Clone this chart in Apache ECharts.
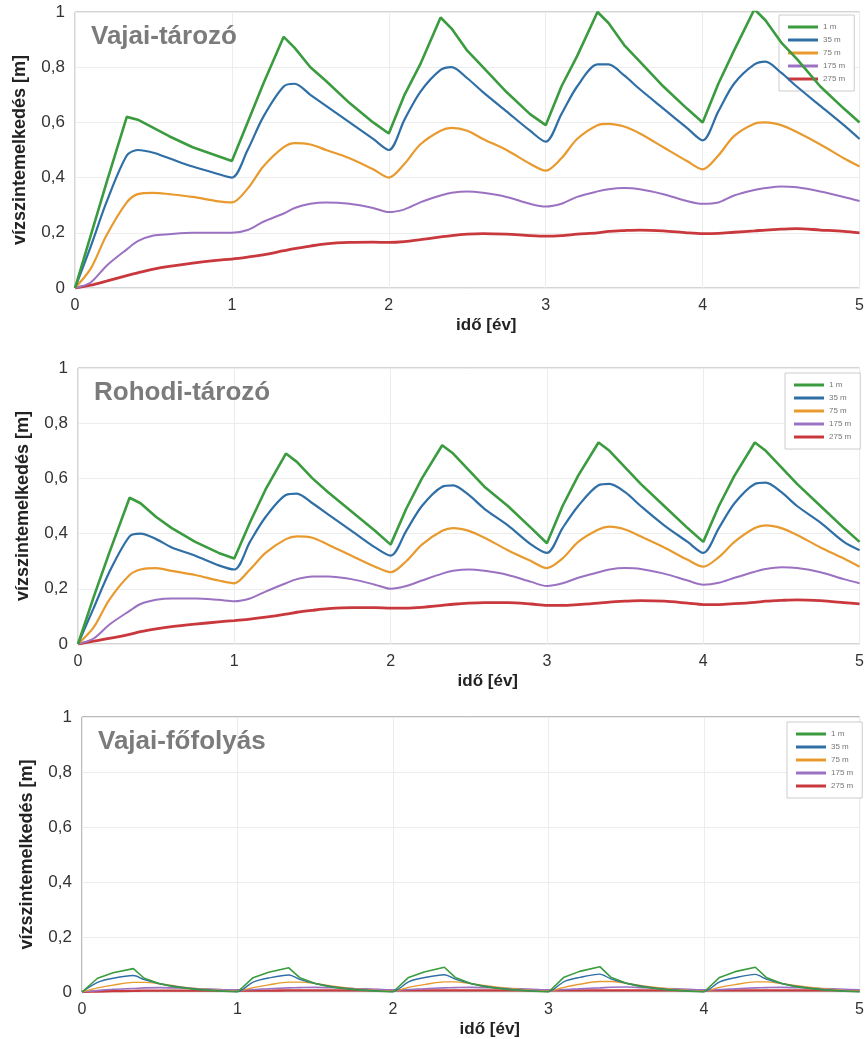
<!DOCTYPE html>
<html>
<head>
<meta charset="utf-8">
<script src="https://cdn.jsdelivr.net/npm/echarts@6/dist/echarts.min.js"></script>
<style>
  html, body { margin: 0; padding: 0; background: #fff; }
  #main { width: 867px; height: 1039px; }
</style>
</head>
<body>
<div id="main"></div>
<script>
// idő [év]
var t = [
  0, 0.1, 0.2, 0.33, 0.4, 0.5, 0.6, 0.75, 0.9,
  1, 1.1, 1.2, 1.33, 1.4, 1.5, 1.6, 1.75, 1.9,
  2, 2.1, 2.2, 2.33, 2.4, 2.5, 2.6, 2.75, 2.9,
  3, 3.1, 3.2, 3.33, 3.4, 3.5, 3.6, 3.75, 3.9,
  4, 4.1, 4.2, 4.33, 4.4, 4.5, 4.6, 4.75, 4.9,
  5
];
var names = ['1 m', '35 m', '75 m', '175 m', '275 m'];
var colors = ['#3b9b3f', '#2f6fa6', '#e89a2e', '#9b72c2', '#c9383d'];
var titles = ['Vajai-tározó', 'Rohodi-tározó', 'Vajai-főfolyás'];

// Vajai-tározó
var vt1 = [0, 0.19, 0.38, 0.62, 0.61, 0.58, 0.55, 0.51, 0.48,
  0.46, 0.60, 0.74, 0.91, 0.87, 0.80, 0.75, 0.67, 0.60,
  0.56, 0.70, 0.81, 0.98, 0.94, 0.86, 0.80, 0.71, 0.63,
  0.59, 0.73, 0.84, 1.00, 0.96, 0.88, 0.82, 0.73, 0.65,
  0.60, 0.74, 0.86, 1.01, 0.97, 0.89, 0.83, 0.73, 0.65,
  0.60];
var vt2 = [0, 0.15, 0.31, 0.48, 0.50, 0.49, 0.47, 0.44, 0.415,
  0.40, 0.50, 0.62, 0.73, 0.74, 0.70, 0.66, 0.60, 0.54,
  0.50, 0.61, 0.71, 0.79, 0.80, 0.76, 0.71, 0.64, 0.57,
  0.53, 0.63, 0.73, 0.81, 0.81, 0.77, 0.72, 0.65, 0.58,
  0.535, 0.64, 0.74, 0.81, 0.82, 0.78, 0.73, 0.66, 0.59,
  0.54];
var vt3 = [0, 0.07, 0.19, 0.31, 0.34, 0.345, 0.34, 0.33, 0.315,
  0.31, 0.36, 0.44, 0.51, 0.525, 0.52, 0.50, 0.47, 0.43,
  0.40, 0.45, 0.52, 0.57, 0.58, 0.57, 0.54, 0.50, 0.45,
  0.425, 0.47, 0.54, 0.59, 0.595, 0.585, 0.56, 0.51, 0.46,
  0.43, 0.48, 0.55, 0.595, 0.60, 0.59, 0.565, 0.52, 0.47,
  0.44];
var vt4 = [0, 0.02, 0.08, 0.14, 0.17, 0.19, 0.195, 0.20, 0.20,
  0.20, 0.21, 0.24, 0.27, 0.29, 0.305, 0.31, 0.305, 0.29,
  0.275, 0.285, 0.31, 0.335, 0.345, 0.35, 0.345, 0.33, 0.305,
  0.295, 0.305, 0.33, 0.35, 0.358, 0.362, 0.358, 0.34, 0.315,
  0.305, 0.31, 0.335, 0.355, 0.362, 0.368, 0.365, 0.35, 0.33,
  0.315];
var vt5 = [0, 0.01, 0.025, 0.045, 0.055, 0.068, 0.078, 0.09, 0.10,
  0.105, 0.112, 0.12, 0.135, 0.143, 0.152, 0.16, 0.165, 0.166,
  0.165, 0.168, 0.175, 0.185, 0.19, 0.195, 0.197, 0.195, 0.19,
  0.188, 0.19, 0.195, 0.20, 0.205, 0.208, 0.21, 0.207, 0.20,
  0.197, 0.198, 0.202, 0.207, 0.21, 0.213, 0.215, 0.21, 0.205,
  0.20];

// Rohodi-tározó
var rt1 = [0, 0.17, 0.33, 0.53, 0.51, 0.46, 0.42, 0.37, 0.33,
  0.31, 0.44, 0.56, 0.69, 0.66, 0.60, 0.55, 0.48, 0.41,
  0.36, 0.49, 0.60, 0.72, 0.69, 0.63, 0.57, 0.50, 0.42,
  0.365, 0.50, 0.61, 0.73, 0.70, 0.64, 0.58, 0.50, 0.42,
  0.37, 0.50, 0.61, 0.73, 0.70, 0.64, 0.58, 0.50, 0.42,
  0.37];
var rt2 = [0, 0.13, 0.26, 0.39, 0.40, 0.38, 0.35, 0.32, 0.285,
  0.27, 0.37, 0.46, 0.54, 0.545, 0.51, 0.47, 0.41, 0.35,
  0.32, 0.41, 0.50, 0.57, 0.575, 0.54, 0.49, 0.43, 0.36,
  0.33, 0.42, 0.50, 0.575, 0.58, 0.55, 0.50, 0.43, 0.37,
  0.33, 0.42, 0.51, 0.58, 0.585, 0.55, 0.50, 0.44, 0.37,
  0.34];
var rt3 = [0, 0.06, 0.16, 0.25, 0.27, 0.275, 0.265, 0.25, 0.23,
  0.22, 0.27, 0.33, 0.38, 0.39, 0.385, 0.36, 0.32, 0.28,
  0.26, 0.30, 0.36, 0.41, 0.42, 0.41, 0.385, 0.34, 0.30,
  0.275, 0.31, 0.37, 0.415, 0.425, 0.415, 0.39, 0.35, 0.305,
  0.28, 0.315, 0.37, 0.42, 0.43, 0.42, 0.395, 0.35, 0.31,
  0.28];
var rt4 = [0, 0.02, 0.07, 0.12, 0.145, 0.16, 0.165, 0.165, 0.16,
  0.155, 0.165, 0.19, 0.22, 0.235, 0.245, 0.245, 0.235, 0.215,
  0.20, 0.21, 0.23, 0.255, 0.265, 0.27, 0.265, 0.25, 0.225,
  0.21, 0.22, 0.24, 0.26, 0.27, 0.275, 0.272, 0.255, 0.23,
  0.215, 0.222, 0.24, 0.262, 0.272, 0.278, 0.275, 0.26, 0.235,
  0.22];
var rt5 = [0, 0.01, 0.02, 0.035, 0.045, 0.055, 0.063, 0.072, 0.08,
  0.085, 0.09, 0.097, 0.108, 0.115, 0.122, 0.128, 0.132, 0.132,
  0.13, 0.13, 0.133, 0.14, 0.144, 0.148, 0.15, 0.15, 0.145,
  0.14, 0.14, 0.143, 0.148, 0.152, 0.155, 0.157, 0.155, 0.148,
  0.143, 0.143, 0.146, 0.151, 0.155, 0.158, 0.16, 0.157, 0.15,
  0.145];

// Vajai-főfolyás
var ff1 = [0, 0.05, 0.07, 0.085, 0.05, 0.03, 0.018, 0.008, 0.003,
  0, 0.052, 0.072, 0.088, 0.052, 0.031, 0.018, 0.008, 0.003,
  0, 0.053, 0.073, 0.09, 0.053, 0.031, 0.018, 0.008, 0.003,
  0, 0.054, 0.075, 0.092, 0.054, 0.032, 0.019, 0.008, 0.003,
  0, 0.053, 0.074, 0.09, 0.053, 0.031, 0.018, 0.008, 0.003,
  0];
var ff2 = [0, 0.035, 0.05, 0.06, 0.045, 0.03, 0.02, 0.01, 0.004,
  0.002, 0.036, 0.051, 0.062, 0.046, 0.031, 0.02, 0.01, 0.004,
  0.002, 0.037, 0.052, 0.063, 0.047, 0.031, 0.02, 0.01, 0.004,
  0.002, 0.038, 0.053, 0.065, 0.048, 0.032, 0.021, 0.01, 0.004,
  0.002, 0.037, 0.052, 0.064, 0.047, 0.031, 0.02, 0.01, 0.004,
  0.002];
var ff3 = [0, 0.015, 0.025, 0.035, 0.035, 0.03, 0.022, 0.012, 0.006,
  0.004, 0.016, 0.026, 0.036, 0.036, 0.031, 0.022, 0.012, 0.006,
  0.004, 0.017, 0.027, 0.037, 0.037, 0.031, 0.023, 0.013, 0.006,
  0.004, 0.017, 0.028, 0.038, 0.038, 0.032, 0.023, 0.013, 0.006,
  0.004, 0.017, 0.027, 0.037, 0.037, 0.031, 0.023, 0.013, 0.006,
  0.004];
var ff4 = [0, 0.005, 0.01, 0.013, 0.015, 0.016, 0.015, 0.012, 0.009,
  0.008, 0.009, 0.012, 0.015, 0.016, 0.017, 0.016, 0.013, 0.01,
  0.008, 0.009, 0.012, 0.015, 0.016, 0.017, 0.016, 0.013, 0.01,
  0.008, 0.009, 0.012, 0.015, 0.017, 0.018, 0.016, 0.013, 0.01,
  0.008, 0.009, 0.012, 0.015, 0.016, 0.017, 0.016, 0.013, 0.01,
  0.008];
var ff5 = [0, 0.002, 0.003, 0.004, 0.005, 0.005, 0.005, 0.005, 0.005,
  0.005, 0.005, 0.005, 0.006, 0.006, 0.006, 0.006, 0.006, 0.006,
  0.006, 0.006, 0.006, 0.006, 0.006, 0.006, 0.006, 0.006, 0.006,
  0.006, 0.006, 0.006, 0.006, 0.006, 0.006, 0.006, 0.006, 0.006,
  0.006, 0.006, 0.006, 0.006, 0.006, 0.006, 0.006, 0.006, 0.006,
  0.006];

var panels = [[vt1, vt2, vt3, vt4, vt5], [rt1, rt2, rt3, rt4, rt5], [ff1, ff2, ff3, ff4, ff5]];

(function () {
  var myChart = echarts.init(document.getElementById('main'));
  var gridTops = [12, 368, 717];
  var gridLefts = [75, 78, 82];
  var legendPos = [[779, 15], [785, 373], [787, 722]];
  var widths = [[2.6, 2.2, 2.2, 2, 2.8], [2.6, 2.2, 2.2, 2, 2.8], [1.6, 1.4, 1.4, 1.6, 2.4]];
  var grid = [], xAxis = [], yAxis = [], series = [], legend = [], title = [];

  panels.forEach(function (arrs, p) {
    grid.push({
      left: gridLefts[p], top: gridTops[p], right: 6, height: 276,
      show: true, borderColor: p === 2 ? '#777' : '#aaa', borderWidth: 1, backgroundColor: '#fff'
    });
    xAxis.push({
      type: 'value', gridIndex: p, min: 0, max: 5, interval: 1,
      name: 'idő [év]', nameLocation: 'middle', nameGap: 29,
      nameTextStyle: { fontSize: 17, fontWeight: 'bold', color: '#222', padding: [0, 0, 0, 38] },
      axisLine: { show: false }, axisTick: { show: false },
      axisLabel: { fontSize: 16, color: '#333', margin: 10 },
      splitLine: { lineStyle: { color: '#ececec' } }
    });
    yAxis.push({
      type: 'value', gridIndex: p, min: 0, max: 1, interval: 0.2,
      name: 'vízszintemelkedés [m]', nameLocation: 'middle', nameGap: 46,
      nameTextStyle: { fontSize: 18, fontWeight: 'bold', color: '#222' },
      axisLine: { show: false }, axisTick: { show: false },
      axisLabel: {
        fontSize: 17, color: '#333', margin: 10,
        formatter: function (v) { return String(v).replace('.', ','); }
      },
      splitLine: { lineStyle: { color: '#ececec' } }
    });
    title.push({
      text: titles[p], left: gridLefts[p] + 11, top: gridTops[p] + 7,
      textStyle: { fontSize: 26, fontWeight: 'bold', color: '#7b7b7b' }
    });
    legend.push({
      orient: 'vertical', left: legendPos[p][0], top: legendPos[p][1],
      data: names, icon: 'rect', itemWidth: 30, itemHeight: 3, itemGap: 5,
      padding: [8, 9], borderColor: '#ccc', borderWidth: 1, backgroundColor: '#fff',
      textStyle: { fontSize: 8, color: '#777' }, selectedMode: false
    });
    arrs.forEach(function (arr, i) {
      series.push({
        name: names[i], type: 'line', xAxisIndex: p, yAxisIndex: p,
        data: t.map(function (x, k) { return [x, arr[k]]; }),
        showSymbol: false, symbol: 'none',
        smooth: i === 0 ? false : 0.3,
        lineStyle: { color: colors[i], width: widths[p][i] },
        itemStyle: { color: colors[i] },
        z: 10 - i
      });
    });
  });

  var option = {
    backgroundColor: '#fff',
    animation: false,
    textStyle: { fontFamily: 'Liberation Sans, Arial, sans-serif' },
    title: title, legend: legend, grid: grid, xAxis: xAxis, yAxis: yAxis, series: series
  };
  myChart.setOption(option);
  window.addEventListener('resize', function () { myChart.resize(); });
})();
</script>
</body>
</html>
